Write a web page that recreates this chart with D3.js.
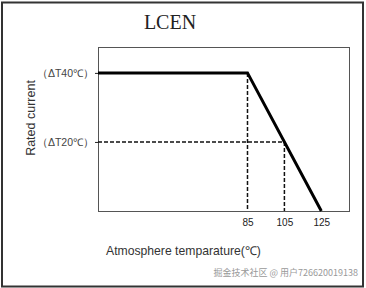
<!DOCTYPE html>
<html>
<head>
<meta charset="utf-8">
<style>
  body { margin: 0; background: #fff; }
  svg { display: block; }
</style>
</head>
<body>
<div class="chart"></div>
<script src="https://cdn.jsdelivr.net/npm/d3@7"></script>
<script>
  // derating curve: temperature (C) vs rated current (in dT units)
  const curveTemp = [4, 85, 125];
  const curveLevel = [40, 40, 0];
  const xTicks = [85, 105, 125];
  const yTicks = [40, 20];
  const yTickLabels = ['（ΔT40℃）', '（ΔT20℃）'];
  const guideTemp = [85, 105];
  const guideLevel = [40, 20];

  const width = 366, height = 288;
  const svg = d3.select('.chart').append('svg')
    .attr('width', width).attr('height', height);

  // outer frame
  svg.append('rect')
    .attr('x', 2).attr('y', 2.5)
    .attr('width', 361).attr('height', 284)
    .attr('fill', 'none').attr('stroke', '#333').attr('stroke-width', 2);

  const xScale = d3.scaleLinear().domain([4, 140]).range([98, 349]);
  const yScale = d3.scaleLinear().domain([0, 47.5]).range([211, 47]);

  // title
  svg.append('text')
    .attr('x', 170).attr('y', 29)
    .attr('text-anchor', 'middle')
    .style('font-family', '"Liberation Serif", serif')
    .style('font-size', '20px')
    .attr('fill', '#222')
    .text('LCEN');

  // plot box
  svg.append('rect')
    .attr('x', xScale.range()[0] + 0.5).attr('y', yScale.range()[1] + 0.5)
    .attr('width', xScale.range()[1] - xScale.range()[0])
    .attr('height', yScale.range()[0] - yScale.range()[1])
    .attr('fill', 'none').attr('stroke', '#555').attr('stroke-width', 1);

  // y ticks
  const yAxis = d3.axisLeft(yScale)
    .tickValues(yTicks)
    .tickSize(3)
    .tickPadding(1)
    .tickFormat((d, i) => yTickLabels[i]);
  const yG = svg.append('g')
    .attr('transform', `translate(${xScale.range()[0]},0)`)
    .call(yAxis);
  yG.select('.domain').remove();
  yG.selectAll('line').attr('stroke', '#222');
  yG.selectAll('text')
    .style('font-family', '"Liberation Sans", Arial, sans-serif')
    .style('font-size', '10.5px')
    .attr('fill', '#444');

  // x ticks
  const xAxis = d3.axisBottom(xScale)
    .tickValues(xTicks)
    .tickSize(0)
    .tickPadding(8)
    .tickFormat(d3.format('d'));
  const xG = svg.append('g')
    .attr('transform', `translate(0,${yScale.range()[0]})`)
    .call(xAxis);
  xG.select('.domain').remove();
  xG.selectAll('text')
    .style('font-family', '"Liberation Sans", Arial, sans-serif')
    .style('font-size', '10px')
    .attr('fill', '#222');

  // dashed guides
  const dash = '4,2';
  guideTemp.forEach((t, i) => {
    svg.append('line')
      .attr('x1', xScale(t)).attr('x2', xScale(t))
      .attr('y1', yScale(guideLevel[i])).attr('y2', yScale(0))
      .attr('stroke', '#111').attr('stroke-width', 1.5)
      .attr('stroke-dasharray', dash);
  });
  svg.append('line')
    .attr('x1', xScale.range()[0]).attr('x2', xScale(guideTemp[1]))
    .attr('y1', yScale(guideLevel[1])).attr('y2', yScale(guideLevel[1]))
    .attr('stroke', '#111').attr('stroke-width', 1.5)
    .attr('stroke-dasharray', dash);

  // derating curve
  const line = d3.line()
    .x((d, i) => xScale(curveTemp[i]))
    .y(d => yScale(d));
  svg.append('path')
    .attr('d', line(curveLevel))
    .attr('fill', 'none')
    .attr('stroke', '#000')
    .attr('stroke-width', 3);

  // axis titles
  svg.append('text')
    .attr('transform', 'translate(35,118) rotate(-90)')
    .attr('text-anchor', 'middle')
    .style('font-family', '"Liberation Sans", Arial, sans-serif')
    .style('font-size', '12.5px')
    .attr('fill', '#333')
    .text('Rated current');

  svg.append('text')
    .attr('x', 106).attr('y', 255)
    .style('font-family', '"Liberation Sans", Arial, sans-serif')
    .style('font-size', '12.2px')
    .attr('fill', '#333')
    .text('Atmosphere temparature(℃)');

  // watermark
  svg.append('text')
    .attr('x', 358).attr('y', 276)
    .attr('text-anchor', 'end')
    .style('font-family', '"Noto Sans CJK SC", sans-serif')
    .style('font-size', '9px')
    .attr('fill', '#999')
    .text('掘金技术社区 @ 用户726620019138');
</script>
</body>
</html>
